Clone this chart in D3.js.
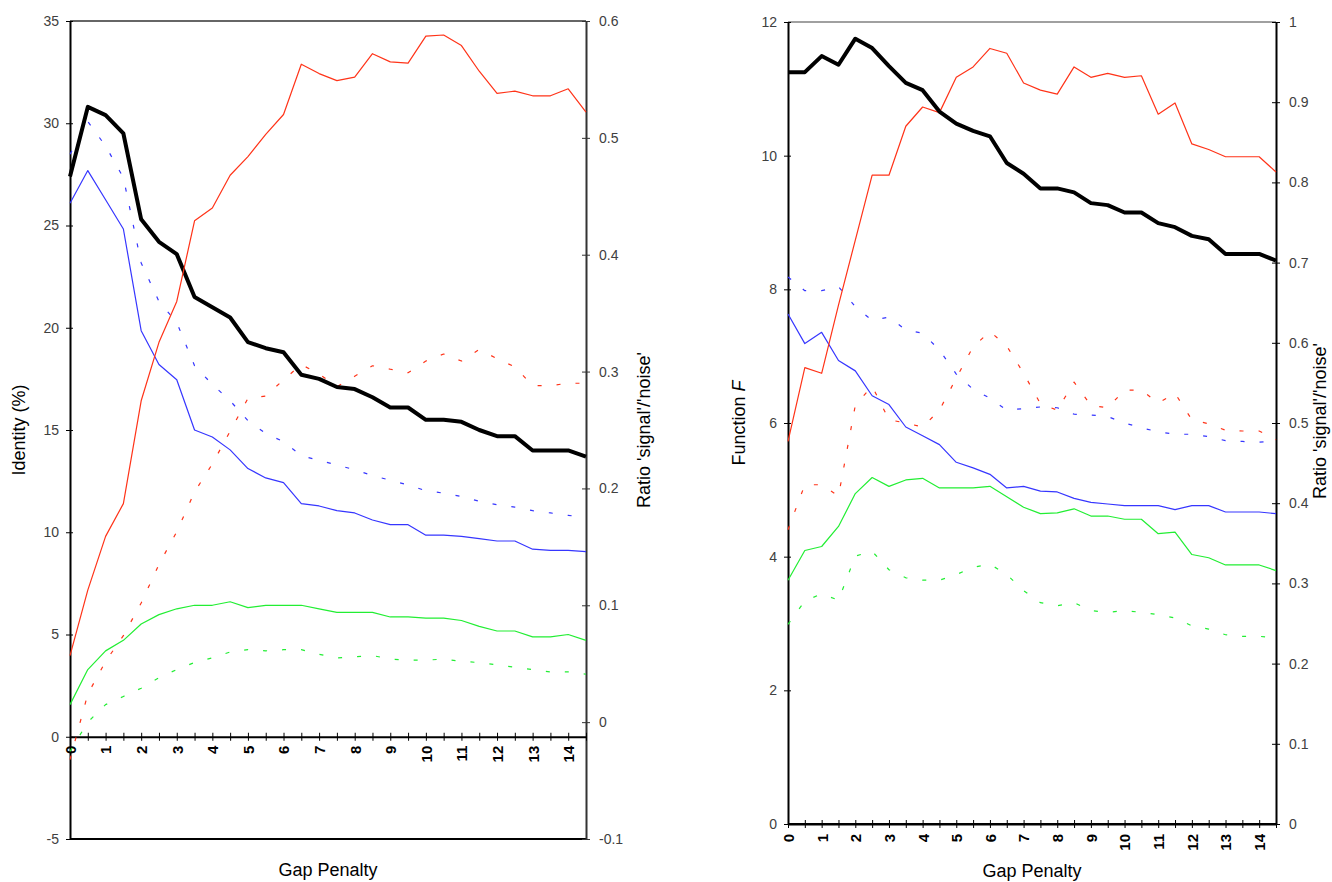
<!DOCTYPE html>
<html>
<head>
<meta charset="utf-8">
<script src="https://cdn.jsdelivr.net/npm/d3@7"></script>
<style>
  body { margin: 0; background: #fff; }
  svg { display: block; font-family: "Liberation Sans", Arial, sans-serif; }
  .yaxis .tick text { fill: #404040; font-size: 14px; }
  .xaxis .tick text { fill: #000; font-size: 15px; font-weight: bold; }
  .title { font-size: 18px; fill: #000; }
</style>
</head>
<body>
<div id="chart"></div>
<script>
// gap penalty categories (x axis) and the ones that get a label
var gapPenalty = ["0", "0.5", "1", "1.5", "2", "2.5", "3", "3.5", "4", "4.5", "5", "5.5", "6", "6.5", "7",
    "7.5", "8", "8.5", "9", "9.5", "10", "10.5", "11", "11.5", "12", "12.5", "13", "13.5", "14", "14.5"];
var gapLabels = ["0", "1", "2", "3", "4", "5", "6", "7", "8", "9", "10", "11", "12", "13", "14"];

// left chart
var identityTicks = [-5, 0, 5, 10, 15, 20, 25, 30, 35];
var ratioTicksA = [-0.1, 0, 0.1, 0.2, 0.3, 0.4, 0.5, 0.6];
var identity = [27.4, 30.8, 30.4, 29.5, 25.3, 24.2, 23.6, 21.5, 21.0, 20.5, 19.3, 19.0, 18.8, 17.7, 17.5,
    17.1, 17.0, 16.6, 16.1, 16.1, 15.5, 15.5, 15.4, 15.0, 14.7, 14.7, 14.0, 14.0, 14.0, 13.7];
var blueA = [0.444, 0.472, 0.447, 0.422, 0.335, 0.306, 0.293, 0.250, 0.244, 0.233, 0.217, 0.209, 0.205, 0.187, 0.185,
    0.181, 0.179, 0.173, 0.169, 0.169, 0.160, 0.160, 0.159, 0.157, 0.155, 0.155, 0.148, 0.147, 0.147, 0.146];
var blueDotA = [0.486, 0.514, 0.493, 0.466, 0.393, 0.360, 0.342, 0.305, 0.289, 0.275, 0.258, 0.247, 0.240, 0.228, 0.224,
    0.220, 0.216, 0.211, 0.207, 0.203, 0.198, 0.196, 0.193, 0.189, 0.186, 0.184, 0.181, 0.179, 0.177, 0.175];
var redA = [0.057, 0.113, 0.159, 0.187, 0.275, 0.325, 0.360, 0.429, 0.440, 0.468, 0.484, 0.503, 0.520, 0.563, 0.555,
    0.549, 0.552, 0.572, 0.565, 0.564, 0.587, 0.588, 0.579, 0.557, 0.538, 0.540, 0.536, 0.536, 0.542, 0.522];
var redDotA = [-0.032, 0.024, 0.052, 0.074, 0.102, 0.135, 0.163, 0.197, 0.221, 0.249, 0.277, 0.279, 0.293, 0.306, 0.298,
    0.287, 0.296, 0.305, 0.302, 0.299, 0.309, 0.315, 0.309, 0.319, 0.311, 0.304, 0.288, 0.288, 0.290, 0.290];
var greenA = [0.015, 0.045, 0.061, 0.070, 0.084, 0.092, 0.097, 0.100, 0.100, 0.103, 0.098, 0.100, 0.100, 0.100, 0.097,
    0.094, 0.094, 0.094, 0.090, 0.090, 0.089, 0.089, 0.087, 0.082, 0.078, 0.078, 0.073, 0.073, 0.075, 0.070];
var greenDotA = [-0.025, 0.000, 0.015, 0.022, 0.029, 0.038, 0.045, 0.051, 0.055, 0.060, 0.062, 0.061, 0.062, 0.062, 0.058,
    0.055, 0.056, 0.057, 0.054, 0.053, 0.053, 0.054, 0.052, 0.051, 0.049, 0.047, 0.045, 0.043, 0.043, 0.041];

// right chart
var functionTicks = [0, 2, 4, 6, 8, 10, 12];
var ratioTicksB = [0, 0.1, 0.2, 0.3, 0.4, 0.5, 0.6, 0.7, 0.8, 0.9, 1];
var functionF = [11.25, 11.25, 11.49, 11.36, 11.75, 11.61, 11.34, 11.09, 10.98, 10.66, 10.48, 10.37, 10.29, 9.89, 9.73,
    9.51, 9.51, 9.45, 9.29, 9.26, 9.15, 9.15, 8.99, 8.93, 8.80, 8.75, 8.53, 8.53, 8.53, 8.43];
var redB = [0.477, 0.569, 0.562, 0.647, 0.728, 0.809, 0.809, 0.870, 0.894, 0.887, 0.931, 0.944, 0.967, 0.961, 0.924,
    0.915, 0.910, 0.944, 0.931, 0.936, 0.931, 0.933, 0.885, 0.899, 0.848, 0.841, 0.832, 0.832, 0.832, 0.813];
var redDotB = [0.367, 0.423, 0.423, 0.409, 0.522, 0.546, 0.504, 0.500, 0.495, 0.516, 0.556, 0.595, 0.614, 0.596, 0.562,
    0.524, 0.516, 0.551, 0.522, 0.519, 0.541, 0.541, 0.525, 0.537, 0.504, 0.499, 0.491, 0.490, 0.490, 0.479];
var blueB = [0.636, 0.599, 0.613, 0.578, 0.565, 0.534, 0.523, 0.495, 0.484, 0.473, 0.451, 0.444, 0.436, 0.419, 0.421,
    0.415, 0.414, 0.406, 0.401, 0.399, 0.397, 0.397, 0.397, 0.392, 0.397, 0.397, 0.389, 0.389, 0.389, 0.387];
var blueDotB = [0.682, 0.665, 0.665, 0.670, 0.645, 0.628, 0.632, 0.616, 0.612, 0.591, 0.561, 0.542, 0.531, 0.516, 0.518,
    0.520, 0.519, 0.511, 0.510, 0.508, 0.500, 0.494, 0.489, 0.486, 0.486, 0.483, 0.478, 0.477, 0.476, 0.478];
var greenB = [0.304, 0.341, 0.346, 0.371, 0.412, 0.432, 0.421, 0.429, 0.431, 0.419, 0.419, 0.419, 0.421, 0.408, 0.395,
    0.387, 0.388, 0.393, 0.384, 0.384, 0.380, 0.380, 0.362, 0.364, 0.336, 0.332, 0.323, 0.323, 0.323, 0.316];
var greenDotB = [0.249, 0.278, 0.287, 0.279, 0.334, 0.340, 0.317, 0.307, 0.304, 0.304, 0.311, 0.320, 0.324, 0.311, 0.291,
    0.276, 0.272, 0.276, 0.266, 0.264, 0.266, 0.264, 0.261, 0.257, 0.247, 0.243, 0.236, 0.234, 0.234, 0.232];

var RED = "#ff3318", BLUE = "#3636ff", GREEN = "#22ee33", DOT = "4,15";

var width = 1332, height = 882;
var svg = d3.select("#chart").append("svg")
    .attr("width", width)
    .attr("height", height);

function drawPanel(p) {
    var g = svg.append("g");
    var x = d3.scalePoint().domain(gapPenalty).range([p.left, p.right]);
    var yL = d3.scaleLinear().domain(p.leftDomain).range([p.bottom, p.top]);
    var yR = d3.scaleLinear().domain(p.rightDomain).range([p.bottom, p.top]);

    // frame: top and bottom borders
    g.append("line").attr("x1", p.left).attr("x2", p.right).attr("y1", p.top).attr("y2", p.top)
        .attr("stroke", p.topColor).attr("stroke-width", 1.5);
    g.append("line").attr("x1", p.left).attr("x2", p.right).attr("y1", p.bottom).attr("y2", p.bottom)
        .attr("stroke", "#000").attr("stroke-width", 2);

    // left axis
    var la = g.append("g").attr("class", "yaxis")
        .attr("transform", "translate(" + p.left + ",0)")
        .call(d3.axisLeft(yL).tickValues(p.leftTicks).tickFormat(String).tickSizeOuter(0).tickSizeInner(4).tickPadding(7));
    la.select(".domain").attr("stroke", "#000").attr("stroke-width", 2);
    la.selectAll(".tick line").attr("x1", -4).attr("x2", 3).attr("stroke", "#000");

    // right axis
    var ra = g.append("g").attr("class", "yaxis")
        .attr("transform", "translate(" + p.right + ",0)")
        .call(d3.axisRight(yR).tickValues(p.rightTicks).tickFormat(String).tickSizeOuter(0).tickSizeInner(4).tickPadding(9));
    ra.select(".domain").attr("stroke", p.rightColor).attr("stroke-width", 2);
    ra.selectAll(".tick line").attr("x1", -4).attr("x2", 4).attr("stroke", p.rightColor);

    // category axis at value 0 of the left scale
    var xa = g.append("g").attr("class", "xaxis")
        .attr("transform", "translate(0," + yL(0) + ")")
        .call(d3.axisBottom(x).tickSizeOuter(0).tickSizeInner(4)
            .tickFormat(function(d) { return gapLabels.indexOf(d) >= 0 ? d : ""; }));
    xa.select(".domain").attr("stroke", "#000").attr("stroke-width", 2);
    xa.selectAll(".tick line").attr("y1", -4).attr("y2", 4).attr("stroke", "#000");
    xa.selectAll(".tick text")
        .attr("transform", "rotate(-90)")
        .attr("text-anchor", "end")
        .attr("x", -p.labelGap)
        .attr("y", 0)
        .attr("dy", "0.36em");

    // series
    p.series.forEach(function(s) {
        var sc = s.axis === "left" ? yL : yR;
        var line = d3.line()
            .x(function(d, i) { return x(gapPenalty[i]); })
            .y(function(d) { return sc(d); });
        g.append("path")
            .datum(s.values)
            .attr("fill", "none")
            .attr("stroke", s.color)
            .attr("stroke-width", s.width)
            .attr("stroke-dasharray", s.dash || null)
            .attr("stroke-linejoin", "round")
            .attr("d", line);
    });

    // titles
    var midY = (p.top + p.bottom) / 2;
    g.append("text").attr("class", "title")
        .attr("transform", "translate(" + p.leftTitleX + "," + midY + ") rotate(-90)")
        .attr("text-anchor", "middle")
        .html(p.leftTitle);
    g.append("text").attr("class", "title")
        .attr("transform", "translate(" + p.rightTitleX + "," + p.rightTitleY + ") rotate(-90)")
        .attr("text-anchor", "middle")
        .text("Ratio 'signal'/'noise'");
    g.append("text").attr("class", "title")
        .attr("x", (p.left + p.right) / 2)
        .attr("y", p.xTitleY)
        .attr("text-anchor", "middle")
        .text("Gap Penalty");
}

drawPanel({
    left: 70, right: 586, top: 21, bottom: 839,
    leftDomain: [-5, 35], rightDomain: [-0.1, 0.6],
    leftTicks: identityTicks, rightTicks: ratioTicksA,
    topColor: "#333", rightColor: "#333",
    labelGap: 9,
    leftTitle: "Identity (%)", leftTitleX: 25,
    rightTitleX: 650, rightTitleY: 430,
    xTitleY: 876,
    series: [
        { values: greenDotA, axis: "right", color: GREEN, width: 1.2, dash: DOT },
        { values: greenA, axis: "right", color: GREEN, width: 1.2 },
        { values: redDotA, axis: "right", color: RED, width: 1.2, dash: DOT },
        { values: blueDotA, axis: "right", color: BLUE, width: 1.2, dash: DOT },
        { values: blueA, axis: "right", color: BLUE, width: 1.2 },
        { values: identity, axis: "left", color: "#000", width: 4 },
        { values: redA, axis: "right", color: RED, width: 1.2 }
    ]
});

drawPanel({
    left: 788, right: 1276, top: 22, bottom: 824,
    leftDomain: [0, 12], rightDomain: [0, 1],
    leftTicks: functionTicks, rightTicks: ratioTicksB,
    topColor: "#808080", rightColor: "#000",
    labelGap: 10,
    leftTitle: "Function <tspan font-style='italic'>F</tspan>", leftTitleX: 745,
    rightTitleX: 1326, rightTitleY: 421,
    xTitleY: 877,
    series: [
        { values: greenDotB, axis: "right", color: GREEN, width: 1.2, dash: DOT },
        { values: greenB, axis: "right", color: GREEN, width: 1.2 },
        { values: redDotB, axis: "right", color: RED, width: 1.2, dash: DOT },
        { values: blueDotB, axis: "right", color: BLUE, width: 1.2, dash: DOT },
        { values: blueB, axis: "right", color: BLUE, width: 1.2 },
        { values: redB, axis: "right", color: RED, width: 1.2 },
        { values: functionF, axis: "left", color: "#000", width: 4 }
    ]
});
</script>
</body>
</html>
